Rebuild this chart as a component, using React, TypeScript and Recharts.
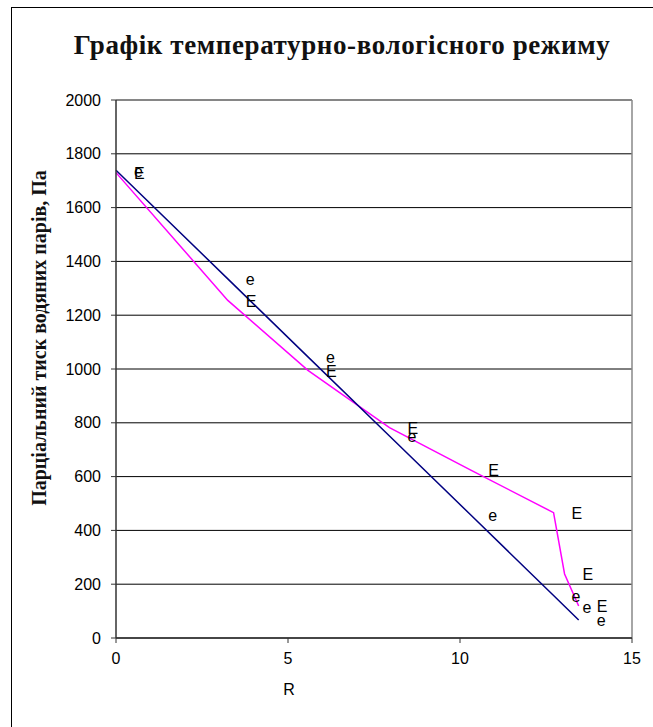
import React from "react";
import {
  ComposedChart,
  Line,
  XAxis,
  YAxis,
  CartesianGrid,
  ReferenceLine,
  LabelList,
} from "recharts";

// термічний опір R, м²К/Вт (точки на межах шарів)
const rValues = [0, 3.25, 5.58, 7.95, 10.3, 12.72, 13.04, 13.45];
// E — тиск насиченої пари, Па
const satPressure = [1730, 1255, 995, 782, 625, 466, 238, 119];
// e — дійсний парціальний тиск, Па
const realPressure = [1739, 1335, 1045, 751, 459, 158, 118, 67];

const xTicks = [0, 5, 10, 15];
const yTicks = [0, 200, 400, 600, 800, 1000, 1200, 1400, 1600, 1800, 2000];

const satData = rValues.map((r, i) => ({ r, p: satPressure[i] }));
const realData = rValues.map((r, i) => ({ r, p: realPressure[i] }));

const SANS = "'Liberation Sans', Arial, sans-serif";
const SERIF = "'Liberation Serif', 'Times New Roman', serif";

const pointLabel = (text: string) => (props: any) => {
  const { x, y } = props;
  if (x == null || y == null) return null;
  return (
    <text
      x={x + 18}
      y={y}
      dy="0.4em"
      fontFamily={SANS}
      fontSize={16}
      fill="#000"
      textAnchor="start"
    >
      {text}
    </text>
  );
};

export default function App() {
  return (
    <div
      style={{
        position: "absolute",
        left: 0,
        top: 0,
        width: 653,
        height: 727,
        overflow: "hidden",
        background: "#fff",
      }}
    >
      <div
        style={{
          position: "absolute",
          left: 11,
          top: 7,
          width: 700,
          height: 800,
          borderLeft: "1.5px solid #000",
          borderTop: "1.5px solid #000",
        }}
      />
      <div
        style={{
          position: "absolute",
          left: 0,
          top: 30,
          width: 684,
          textAlign: "center",
          fontFamily: SERIF,
          fontWeight: "bold",
          fontSize: 27,
          letterSpacing: 0.6,
          color: "#111",
          whiteSpace: "nowrap",
        }}
      >
        Графік температурно-вологісного режиму
      </div>
      <div style={{ position: "absolute", left: 0, top: 0 }}>
        <ComposedChart
          width={653}
          height={727}
          margin={{ top: 100, right: 21, bottom: 59, left: 0 }}
        >
          <CartesianGrid vertical={false} stroke="#000" strokeWidth={1} />
          <XAxis
            type="number"
            dataKey="r"
            domain={[0, 15]}
            ticks={xTicks}
            height={30}
            tickSize={5}
            tickMargin={10}
            allowDuplicatedCategory={false}
            axisLine={{ stroke: "#333", strokeWidth: 1.5 }}
            tickLine={{ stroke: "#333" }}
            tick={{ fill: "#000", fontSize: 16, fontFamily: SANS }}
            label={{
              content: () => (
                <text
                  x={289}
                  y={695}
                  textAnchor="middle"
                  fontFamily={SANS}
                  fontSize={16}
                  fill="#000"
                >
                  R
                </text>
              ),
            }}
          />
          <YAxis
            type="number"
            domain={[0, 2000]}
            ticks={yTicks}
            width={116}
            tickSize={5}
            tickMargin={10}
            axisLine={{ stroke: "#333", strokeWidth: 1.5 }}
            tickLine={{ stroke: "#333" }}
            tick={{ fill: "#000", fontSize: 16, fontFamily: SANS }}
            label={{
              content: () => (
                <text
                  x={39}
                  y={338}
                  transform="rotate(-90, 39, 338)"
                  textAnchor="middle"
                  dy="0.35em"
                  fontFamily={SERIF}
                  fontWeight="bold"
                  fontSize={20}
                  fill="#111"
                >
                  Парціальний тиск водяних парів, Па
                </text>
              ),
            }}
          />
          <ReferenceLine y={2000} stroke="#888" strokeWidth={1.5} />
          <ReferenceLine x={15} stroke="#888" strokeWidth={1.5} />
          <Line
            data={satData}
            dataKey="p"
            type="linear"
            stroke="#ff00ff"
            strokeWidth={1.5}
            dot={false}
            isAnimationActive={false}
          >
            <LabelList dataKey="p" content={pointLabel("E")} />
          </Line>
          <Line
            data={realData}
            dataKey="p"
            type="linear"
            stroke="#000080"
            strokeWidth={1.5}
            dot={false}
            isAnimationActive={false}
          >
            <LabelList dataKey="p" content={pointLabel("e")} />
          </Line>
        </ComposedChart>
      </div>
    </div>
  );
}
